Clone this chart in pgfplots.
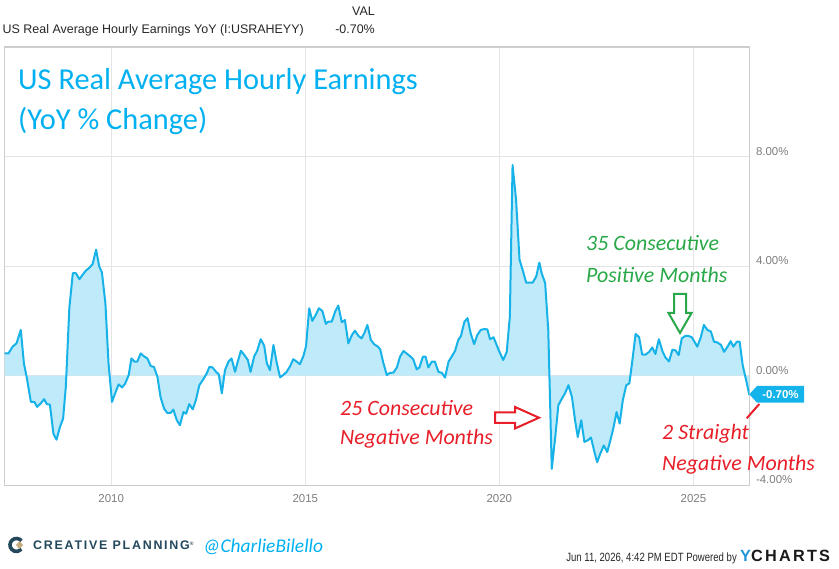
\documentclass[border=0pt]{standalone}
\usepackage{pgfplots}
\pgfplotsset{compat=1.18}
\usepgfplotslibrary{fillbetween}
\usepackage{pgfplotstable}
\usepackage{fontspec}
\setmainfont{Liberation Sans}
\newfontfamily\carlito{Carlito}
\newfontfamily\condensed[FakeStretch=0.8]{Liberation Sans}
\newfontfamily\spaced[LetterSpace=14]{Liberation Sans}
\definecolor{cline}{RGB}{22,178,232}
\definecolor{cfill}{RGB}{190,234,249}
\definecolor{ctitle}{RGB}{0,176,240}
\definecolor{cgreen}{RGB}{40,168,72}
\definecolor{cred}{RGB}{232,30,40}
\definecolor{ctick}{RGB}{125,125,125}
\definecolor{cgrid}{RGB}{228,228,228}
\definecolor{cborder}{RGB}{205,205,205}
\definecolor{cteal}{RGB}{35,72,92}
\definecolor{ctan}{RGB}{196,170,124}
\definecolor{ctag}{RGB}{20,180,235}
\definecolor{cyblue}{RGB}{30,150,215}
\pgfplotstableread{
x y
2007.25 0.81
2007.35 0.81
2007.46 1.06
2007.56 1.18
2007.67 1.67
2007.75 0.45
2007.82 -0.04
2007.93 -0.96
2008.02 -0.96
2008.09 -1.14
2008.18 -1.02
2008.27 -0.86
2008.34 -1.04
2008.42 -1.06
2008.51 -2.12
2008.59 -2.34
2008.68 -1.87
2008.76 -1.57
2008.83 -0.41
2008.92 2.46
2009.01 3.74
2009.09 3.74
2009.18 3.52
2009.26 3.68
2009.35 3.84
2009.43 3.93
2009.52 4.07
2009.61 4.60
2009.69 3.99
2009.76 3.77
2009.85 2.64
2009.93 0.45
2010.02 -0.96
2010.10 -0.65
2010.19 -0.32
2010.28 -0.43
2010.36 -0.29
2010.45 0.02
2010.52 0.63
2010.60 0.51
2010.67 0.51
2010.76 0.81
2010.84 0.71
2010.93 0.63
2011.02 0.35
2011.10 0.32
2011.19 -0.04
2011.27 -0.78
2011.36 -1.20
2011.44 -1.36
2011.53 -1.36
2011.60 -1.24
2011.69 -1.63
2011.77 -1.81
2011.86 -1.33
2011.93 -1.39
2012.01 -1.04
2012.10 -1.23
2012.18 -0.90
2012.27 -0.35
2012.37 -0.14
2012.46 0.08
2012.53 0.32
2012.61 0.30
2012.70 0.14
2012.77 0.05
2012.85 -0.65
2012.93 0.20
2013.02 0.51
2013.10 0.63
2013.19 0.14
2013.26 0.51
2013.34 0.91
2013.43 0.75
2013.52 0.57
2013.59 0.14
2013.68 0.69
2013.76 0.91
2013.85 1.33
2013.94 1.10
2014.01 0.45
2014.09 0.20
2014.18 1.12
2014.26 0.50
2014.35 -0.06
2014.43 0.02
2014.52 0.14
2014.61 0.35
2014.69 0.60
2014.78 0.51
2014.86 0.42
2014.95 0.71
2015.02 1.08
2015.10 2.46
2015.18 2.00
2015.27 2.22
2015.35 2.46
2015.44 2.36
2015.53 1.89
2015.59 1.97
2015.68 1.97
2015.77 2.34
2015.85 2.56
2015.94 1.95
2016.02 2.03
2016.11 1.18
2016.20 1.48
2016.28 1.64
2016.37 1.45
2016.45 1.36
2016.52 1.55
2016.60 1.85
2016.69 1.30
2016.78 1.14
2016.87 1.06
2016.93 0.96
2017.01 0.47
2017.10 0.02
2017.18 0.10
2017.27 0.11
2017.36 0.30
2017.44 0.69
2017.53 0.90
2017.61 0.81
2017.70 0.71
2017.78 0.60
2017.87 0.23
2017.94 0.30
2018.03 0.69
2018.10 0.69
2018.17 0.30
2018.26 0.51
2018.34 0.51
2018.43 0.14
2018.52 0.10
2018.60 -0.07
2018.69 0.51
2018.77 0.69
2018.86 0.91
2018.94 1.30
2019.01 1.45
2019.10 1.97
2019.18 2.10
2019.26 1.55
2019.35 1.15
2019.43 1.48
2019.52 1.67
2019.61 1.70
2019.69 1.69
2019.76 1.33
2019.85 1.40
2019.93 1.12
2020.02 0.81
2020.10 0.57
2020.19 0.87
2020.27 2.15
2020.34 7.69
2020.43 6.43
2020.52 4.23
2020.60 3.86
2020.69 3.40
2020.77 3.40
2020.86 3.40
2020.95 3.62
2021.03 4.13
2021.09 3.74
2021.18 3.38
2021.26 1.67
2021.35 -3.40
2021.44 -2.24
2021.52 -1.08
2021.61 -0.84
2021.69 -0.65
2021.78 -0.35
2021.87 -0.78
2021.95 -1.63
2022.02 -2.24
2022.11 -1.63
2022.19 -2.42
2022.28 -2.36
2022.36 -2.26
2022.45 -2.79
2022.52 -3.16
2022.60 -2.85
2022.69 -2.55
2022.78 -2.79
2022.86 -2.36
2022.94 -1.90
2023.02 -1.33
2023.10 -1.75
2023.18 -0.90
2023.27 -0.35
2023.35 -0.28
2023.42 0.48
2023.51 1.52
2023.60 1.41
2023.68 0.77
2023.77 0.77
2023.86 0.87
2023.94 1.03
2024.02 0.79
2024.11 1.33
2024.20 0.90
2024.28 0.66
2024.37 0.52
2024.46 0.95
2024.54 0.92
2024.62 0.75
2024.70 1.36
2024.79 1.45
2024.87 1.45
2024.96 1.40
2025.10 1.06
2025.19 1.40
2025.27 1.85
2025.36 1.67
2025.45 1.61
2025.53 1.24
2025.62 1.21
2025.71 1.12
2025.79 0.87
2025.88 1.06
2025.96 1.26
2026.03 1.06
2026.12 1.24
2026.19 1.24
2026.27 0.38
2026.36 -0.18
2026.44 -0.70
}\datatable
\begin{document}
\begin{tikzpicture}
\begin{scope}[x=1bp,y=1bp]
\path[use as bounding box] (0,0) rectangle (839,569);
\end{scope}
\begin{axis}[
  at={(4.5bp,83.8bp)}, anchor=south west,
  scale only axis, width=744.8bp, height=438.2bp,
  xmin=2007.25, xmax=2026.44, ymin=-4, ymax=12,
  xtick={2010,2015,2020,2025}, xticklabels={2010,2015,2020,2025},
  ytick={-4,0,4,8}, yticklabels={-4.00\%,0.00\%,4.00\%,8.00\%},
  yticklabel pos=right,
  major tick length=0pt,
  grid=major, grid style={cgrid, line width=1bp},
  axis line style={cborder, line width=1.3bp},
  tick label style={font=\fontsize{11.5}{12}\selectfont, text=ctick},
  xticklabel style={anchor=center, yshift=-13.8bp},
  yticklabel style={anchor=base west, xshift=6.5bp, yshift=1.5bp, inner sep=0pt},
]
\addplot[draw=none, name path=A] table {\datatable};
\addplot[draw=none, name path=Z] coordinates {(2007.25,0) (2026.44,0)};
\addplot[cfill] fill between[of=A and Z];
\addplot[cline, line width=2bp, line join=round] table {\datatable};
\end{axis}
\begin{scope}[x=1bp,y=1bp]
% header
\node[anchor=base west, inner sep=0, font=\fontsize{12.5}{14}\selectfont, text=black!85] at (2.5,535.7) {US Real Average Hourly Earnings YoY (I:USRAHEYY)};
\node[anchor=base east, inner sep=0, font=\fontsize{12.5}{14}\selectfont, text=black!85] at (375,553) {VAL};
\node[anchor=base east, inner sep=0, font=\fontsize{12.5}{14}\selectfont, text=black!85] at (375,535.7) {-0.70\%};
% title
\node[anchor=base west, inner sep=0, font=\carlito\fontsize{30.5}{32}\selectfont, text=ctitle] at (18,479.7) {US Real Average Hourly Earnings};
\node[anchor=base west, inner sep=0, font=\carlito\fontsize{30.5}{32}\selectfont, text=ctitle] at (18,439) {(YoY \% Change)};
% annotations
\node[anchor=base west, inner sep=0, font=\carlito\itshape\fontsize{22}{24}\selectfont, text=cgreen] at (586,318) {35 Consecutive};
\node[anchor=base west, inner sep=0, font=\carlito\itshape\fontsize{22}{24}\selectfont, text=cgreen] at (586,286) {Positive Months};
\node[anchor=base west, inner sep=0, font=\carlito\itshape\fontsize{22}{24}\selectfont, text=cred] at (340,153) {25 Consecutive};
\node[anchor=base west, inner sep=0, font=\carlito\itshape\fontsize{22}{24}\selectfont, text=cred] at (340,124) {Negative Months};
\node[anchor=base west, inner sep=0, font=\carlito\itshape\fontsize{22}{24}\selectfont, text=cred] at (662,129.5) {2 Straight};
\node[anchor=base west, inner sep=0, font=\carlito\itshape\fontsize{22}{24}\selectfont, text=cred] at (662,98.3) {Negative Months};
% arrows
\draw[cgreen, line width=2bp, fill=white, line join=miter] (674,275) -- (686,275) -- (686,256) -- (691.5,256) -- (680,236) -- (668.5,256) -- (674,256) -- cycle;
\draw[cred, line width=2bp, fill=white, line join=miter] (495,156.5) -- (515,156.5) -- (515,162) -- (539,151.3) -- (515,140.5) -- (515,146) -- (495,146) -- cycle;
\draw[cred, line width=2bp] (746.7,150.7) -- (759.3,165);
% value tag
\fill[ctag] (749.3,174.7) -- (757,183) -- (804,183) -- (804,166.3) -- (757,166.3) -- cycle;
\node[anchor=center, inner sep=0, font=\bfseries\fontsize{11.5}{12}\selectfont, text=white] at (780.5,174.7) {-0.70\%};
% footer
\draw[cteal, line width=3.6bp] ([shift={(40:6.5)}]16.5,24) arc (40:320:6.5);
\fill[ctan] (19.5,28) -- (23,24) -- (19.5,20) -- (16,24) -- cycle;
\node[anchor=base west, inner sep=0, font=\spaced\bfseries\fontsize{12.5}{13}\selectfont, text=cteal] at (33,19) {CREATIVE PLANNING\raisebox{4bp}{\fontsize{5}{5}\selectfont ®}};
\node[anchor=base west, inner sep=0, font=\carlito\itshape\fontsize{19.5}{20}\selectfont, text=ctitle] at (203,16) {@CharlieBilello};
\node[anchor=base east, inner sep=0, font=\condensed\fontsize{12}{13}\selectfont, text=black!85] at (737,7) {Jun 11, 2026, 4:42 PM EDT Powered by};
\node[anchor=base west, inner sep=0, font=\spaced\bfseries\fontsize{16.3}{17}\selectfont, text=black!90] at (740,7) {\textcolor{cyblue}{Y}CHARTS};
\end{scope}
\end{tikzpicture}
\end{document}
